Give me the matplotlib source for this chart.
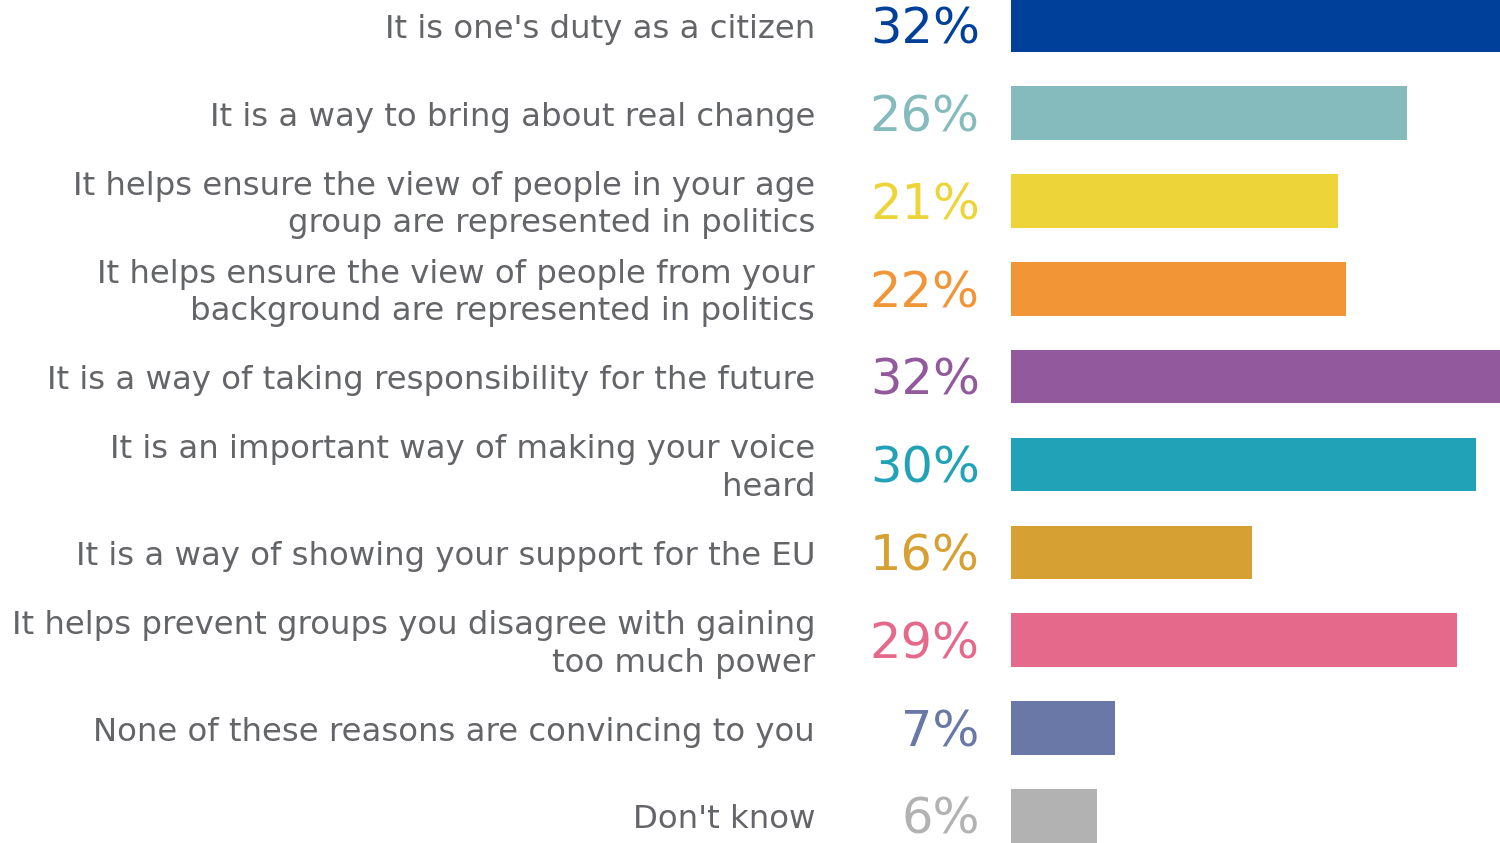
import matplotlib
matplotlib.use("Agg")
import matplotlib.pyplot as plt

categories = [
    "It is one's duty as a citizen",
    "It is a way to bring about real change",
    "It helps ensure the view of people in your age\ngroup are represented in politics",
    "It helps ensure the view of people from your\nbackground are represented in politics",
    "It is a way of taking responsibility for the future",
    "It is an important way of making your voice\nheard",
    "It is a way of showing your support for the EU",
    "It helps prevent groups you disagree with gaining\ntoo much power",
    "None of these reasons are convincing to you",
    "Don't know",
]
values = [32.3, 25.9, 21.4, 21.9, 32.3, 30.4, 15.8, 29.2, 6.8, 5.6]
labels = ["32%", "26%", "21%", "22%", "32%", "30%", "16%", "29%", "7%", "6%"]
colors = ["#00409A", "#85BBBC", "#EDD539", "#F19537", "#92599C",
          "#22A2B7", "#D6A032", "#E5698B", "#6A78A8", "#B2B2B2"]

plt.rcParams["font.family"] = ["DejaVu Sans"]
TEXT = "#646568"

fig = plt.figure(figsize=(15, 8.43), dpi=100)
ax = fig.add_axes([1011 / 1500, 0, 489 / 1500, 1])
ypos = list(range(len(values)))
ax.barh(ypos, values, height=0.61, color=colors)
ax.set_xlim(0, 32)
ax.set_ylim(9.31, -0.29)
ax.axis("off")

for y, cat, lab, c in zip(ypos, categories, labels, colors):
    ax.annotate(cat, xy=(0, y), xytext=(-141, -3), textcoords="offset points",
                ha="right", va="center", fontsize=23.3, color=TEXT,
                linespacing=1.27, annotation_clip=False)
    ax.annotate(lab, xy=(0, y), xytext=(-22.5, -3), textcoords="offset points",
                ha="right", va="center", fontsize=35.6, color=c,
                annotation_clip=False)

fig.savefig("out.png", dpi=100)
